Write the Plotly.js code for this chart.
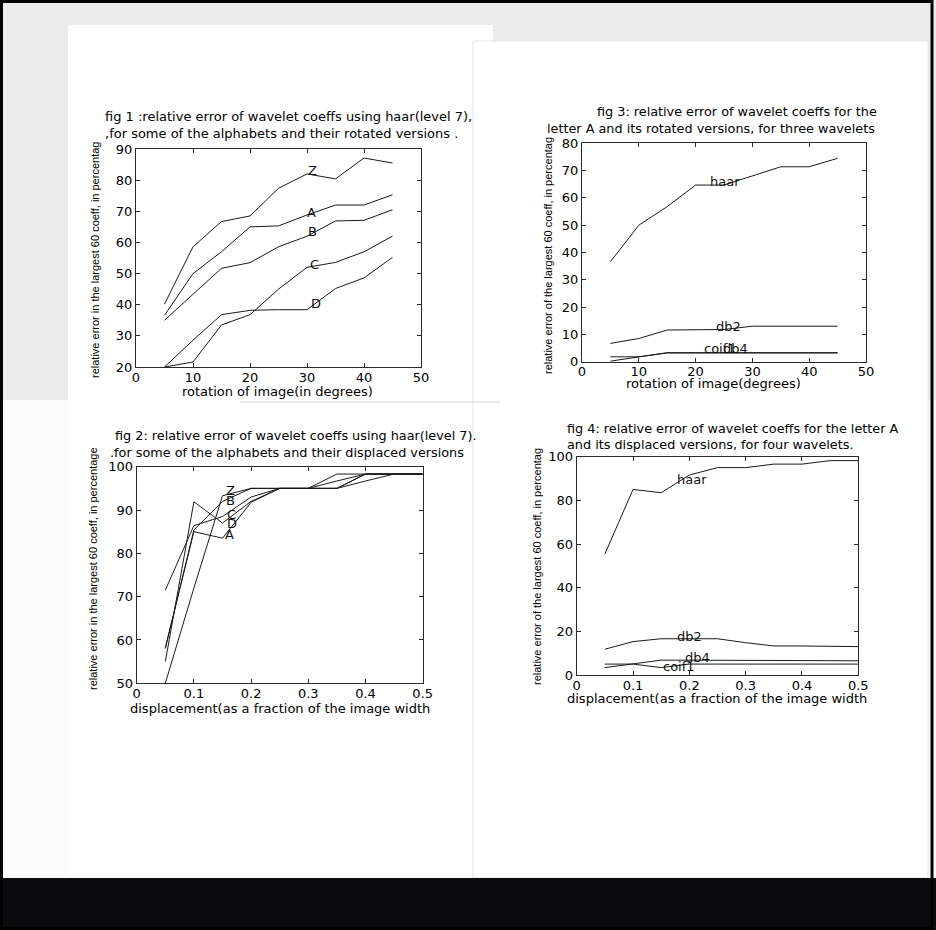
<!DOCTYPE html>
<html>
<head>
<meta charset="utf-8">
<script src="https://cdn.plot.ly/plotly-3.0.1.min.js"></script>
<style>html,body{margin:0;padding:0;background:#fff;}#chart{width:936px;height:930px;}</style>
</head>
<body>
<div id="chart"></div>
<script>
// ---------- data ----------
const rotationDeg = [5, 10, 15, 20, 25, 30, 35, 40, 45];
const displacement = [0.05, 0.1, 0.15, 0.2, 0.25, 0.3, 0.35, 0.4, 0.45, 0.5];

// fig 1: haar, rotated letters
const fig1Names = ["Z", "A", "B", "C", "D"];
const fig1Z = [40.2, 58.6, 66.7, 68.5, 77.4, 82.0, 80.4, 87.1, 85.5];
const fig1A = [36.6, 50.0, 57.0, 65.0, 65.3, 68.8, 72.0, 72.0, 75.3];
const fig1B = [35.0, 43.5, 51.7, 53.5, 58.6, 62.0, 66.9, 67.1, 70.5];
const fig1C = [20.0, 21.6, 33.5, 36.8, 45.0, 52.0, 53.6, 57.0, 62.0];
const fig1D = [20.0, 28.6, 36.8, 38.2, 38.4, 38.4, 45.2, 48.6, 55.2];
const fig1LabelX = [29.8, 29.6, 29.8, 30.2, 30.3];
const fig1LabelY = [83, 69.7, 63.5, 53, 40.3];

// fig 2: haar, displaced letters
const fig2Names = ["Z", "B", "C", "D", "A"];
const fig2Z = [50.0, 72.0, 93.3, 95.0, 95.0, 95.0, 98.3, 98.3, 98.3, 98.3];
const fig2B = [58.0, 85.4, 92.0, 95.0, 95.0, 95.0, 96.7, 98.3, 98.3, 98.3];
const fig2C = [71.5, 86.4, 88.5, 93.0, 95.0, 95.0, 95.0, 98.3, 98.3, 98.3];
const fig2D = [55.0, 91.9, 87.0, 92.0, 95.0, 95.0, 95.0, 98.3, 98.3, 98.3];
const fig2A = [58.2, 85.0, 83.5, 91.8, 95.0, 95.0, 95.0, 96.7, 98.3, 98.3];
const fig2LabelX = [0.153, 0.152, 0.154, 0.155, 0.151];
const fig2LabelY = [94.6, 92.1, 89.0, 86.8, 84.4];

// fig 3: letter A rotated, three wavelets
const fig3Names = ["haar", "db2", "db4", "coif1"];
const fig3Haar = [36.6, 50.0, 56.8, 64.7, 64.7, 68.0, 71.4, 71.4, 74.5];
const fig3Db2 = [6.7, 8.5, 11.6, 11.6, 11.8, 13.0, 13.0, 13.0, 13.0];
const fig3Db4 = [0.2, 1.8, 3.3, 3.3, 3.3, 3.3, 3.3, 3.3, 3.3];
const fig3Coif1 = [1.8, 1.8, 3.2, 3.2, 3.2, 3.2, 3.2, 3.2, 3.2];
const fig3LabelX = [22.2, 23.3, 24.4, 21.1];
const fig3LabelY = [66, 12.8, 4.9, 4.9];

// fig 4: letter A displaced, four wavelets
const fig4Names = ["haar", "db2", "db4", "coif1"];
const fig4Haar = [55.4, 85.0, 83.5, 91.6, 95.0, 95.0, 96.6, 96.6, 98.2, 98.2];
const fig4Db2 = [11.8, 15.3, 16.6, 16.6, 16.6, 14.8, 13.3, 13.3, 13.1, 13.0];
const fig4Db4 = [3.4, 5.0, 6.8, 6.8, 6.8, 6.6, 6.6, 6.5, 6.5, 6.5];
const fig4Coif1 = [5.0, 5.0, 3.4, 5.0, 5.0, 5.0, 5.0, 5.0, 5.0, 5.0];
const fig4LabelX = [0.175, 0.175, 0.189, 0.149];
const fig4LabelY = [89.6, 17.6, 8.1, 4.1];

// ---------- helpers ----------
const W = 936, H = 930;
const px = v => v / W;
const py = v => 1 - v / H;
const LINE = '#1a1a1a';
const FONT = 'DejaVu Sans, Liberation Sans, Arial, sans-serif';
const NARROW = 'Liberation Sans Narrow, Arial Narrow, Liberation Sans, sans-serif';

const traces = [];
function addSeries(x, ys, names, xa, ya) {
  ys.forEach((y, i) => traces.push({
    type: 'scatter', mode: 'lines', x: x, y: y, name: names[i],
    xaxis: xa, yaxis: ya, line: {color: LINE, width: 1}, showlegend: false, hoverinfo: 'x+y+name'
  }));
}
addSeries(rotationDeg, [fig1Z, fig1A, fig1B, fig1C, fig1D], fig1Names, 'x', 'y');
addSeries(rotationDeg, [fig3Haar, fig3Db2, fig3Db4, fig3Coif1], fig3Names, 'x2', 'y2');
addSeries(displacement, [fig2Z, fig2B, fig2C, fig2D, fig2A], fig2Names, 'x3', 'y3');
addSeries(displacement, [fig4Haar, fig4Db2, fig4Db4, fig4Coif1], fig4Names, 'x4', 'y4');

function axis(domain, range, dtick, anchor, extra) {
  return Object.assign({
    domain: domain, range: range, dtick: dtick, tick0: range[0], anchor: anchor,
    showline: true, linecolor: '#2a2a2a', linewidth: 1, mirror: 'ticks',
    ticks: 'inside', ticklen: 4, tickcolor: '#2a2a2a', showgrid: false, zeroline: false,
    tickfont: {family: FONT, size: 13, color: '#000'}, fixedrange: true
  }, extra || {});
}
const xs = {ticklabelstandoff: -2};
const ys = {ticklabelstandoff: 0};

const layout = {
  width: W, height: H, autosize: false,
  margin: {l: 0, r: 0, t: 0, b: 0, pad: 0},
  paper_bgcolor: '#ececec', plot_bgcolor: '#ffffff',
  showlegend: false,
  xaxis:  axis([px(136), px(421)], [0, 50], 10, 'y', xs),
  yaxis:  axis([py(367), py(149)], [20, 90], 10, 'x', ys),
  xaxis2: axis([px(582), px(866)], [0, 50], 10, 'y2', xs),
  yaxis2: axis([py(361.7), py(143.3)], [0, 80], 10, 'x2', ys),
  xaxis3: axis([px(136.7), px(422.7)], [0, 0.5], 0.1, 'y3', xs),
  yaxis3: axis([py(683.3), py(466.7)], [50, 100], 10, 'x3', ys),
  xaxis4: axis([px(576.7), px(858.3)], [0, 0.5], 0.1, 'y4', xs),
  yaxis4: axis([py(675), py(456.7)], [0, 100], 20, 'x4', ys),
  shapes: [
    {type: 'rect', xref: 'paper', yref: 'paper', x0: px(0), x1: px(936), y0: py(878), y1: py(400), fillcolor: '#fbfbfb', line: {width: 0}, layer: 'below'},
    {type: 'rect', xref: 'paper', yref: 'paper', x0: px(68), x1: px(493), y0: py(878), y1: py(25), fillcolor: '#ffffff', line: {width: 0}, layer: 'below'},
    {type: 'rect', xref: 'paper', yref: 'paper', x0: px(473), x1: px(928), y0: py(878), y1: py(41), fillcolor: '#ffffff', line: {color: '#e4e4e4', width: 1}, layer: 'below'},
    {type: 'rect', xref: 'paper', yref: 'paper', x0: 0, x1: 1, y0: 0, y1: py(878), fillcolor: '#0b0b0d', line: {width: 0}, layer: 'below'},
    {type: 'line', xref: 'paper', yref: 'paper', x0: px(240), x1: px(500), y0: py(402), y1: py(402), line: {color: '#cfcfcf', width: 1}, layer: 'below'},
    {type: 'rect', xref: 'paper', yref: 'paper', x0: px(1.5), x1: px(932), y0: py(928.5), y1: py(1.5), fillcolor: 'rgba(0,0,0,0)', line: {color: '#000', width: 3}, layer: 'above'}
  ],
  annotations: []
};

function ann(text, x, y, opts) {
  layout.annotations.push(Object.assign({
    text: text, xref: 'paper', yref: 'paper', x: px(x), y: py(y), showarrow: false,
    xanchor: 'left', yanchor: 'middle', font: {family: FONT, size: 12.8, color: '#000'}
  }, opts || {}));
}
function label(text, x, y, xr, yr) {
  layout.annotations.push({
    text: text, xref: xr, yref: yr, x: x, y: y, showarrow: false,
    xanchor: 'left', yanchor: 'middle', font: {family: FONT, size: 13, color: '#111'}
  });
}

// titles
ann('fig 1 :relative error of wavelet coeffs using haar(level 7),', 103, 117, {font: {family: FONT, size: 13, color: '#000'}});
ann(',for some of the alphabets and their rotated versions .', 103, 134, {font: {family: FONT, size: 13, color: '#000'}});
ann('fig 3: relative error of wavelet coeffs for the', 595, 111);
ann('letter A and its rotated versions, for three wavelets', 545, 128);
ann('fig 2: relative error of wavelet coeffs using haar(level 7).', 113, 435);
ann('.for some of the alphabets and their displaced versions', 108, 452);
ann('fig 4: relative error of wavelet coeffs for the letter A', 565, 428);
ann('and its displaced versions, for four wavelets.', 565, 444);

// axis titles
const axT = {family: FONT, size: 13, color: '#000'};
const ayT = {family: NARROW, size: 11, color: '#000'};
ann('rotation of image(in degrees)', 277, 391, {xanchor: 'center', font: axT});
ann('rotation of image(degrees)', 713, 384, {xanchor: 'center', font: axT});
ann('displacement(as a fraction of the image width', 280, 708, {xanchor: 'center', font: axT});
ann('displacement(as a fraction of the image width', 717, 698, {xanchor: 'center', font: axT});
ann('relative error in the largest 60 coeff, in percentag', 95, 260, {xanchor: 'center', textangle: -90, font: ayT});
ann('relative error of the largest 60 coeff, in percentag', 548, 256, {xanchor: 'center', textangle: -90, font: ayT});
ann('relative error in the largest 60 coeff, in percentage', 93, 569, {xanchor: 'center', textangle: -90, font: ayT});
ann('relative error of the largest 60 coeff, in percentag', 537, 567, {xanchor: 'center', textangle: -90, font: ayT});

// in-plot labels
fig1Names.forEach((n, i) => label(n, fig1LabelX[i], fig1LabelY[i], 'x', 'y'));
fig3Names.forEach((n, i) => label(n, fig3LabelX[i], fig3LabelY[i], 'x2', 'y2'));
fig2Names.forEach((n, i) => label(n, fig2LabelX[i], fig2LabelY[i], 'x3', 'y3'));
fig4Names.forEach((n, i) => label(n, fig4LabelX[i], fig4LabelY[i], 'x4', 'y4'));

Plotly.newPlot('chart', traces, layout, {staticPlot: true, displayModeBar: false});
</script>
</body>
</html>
